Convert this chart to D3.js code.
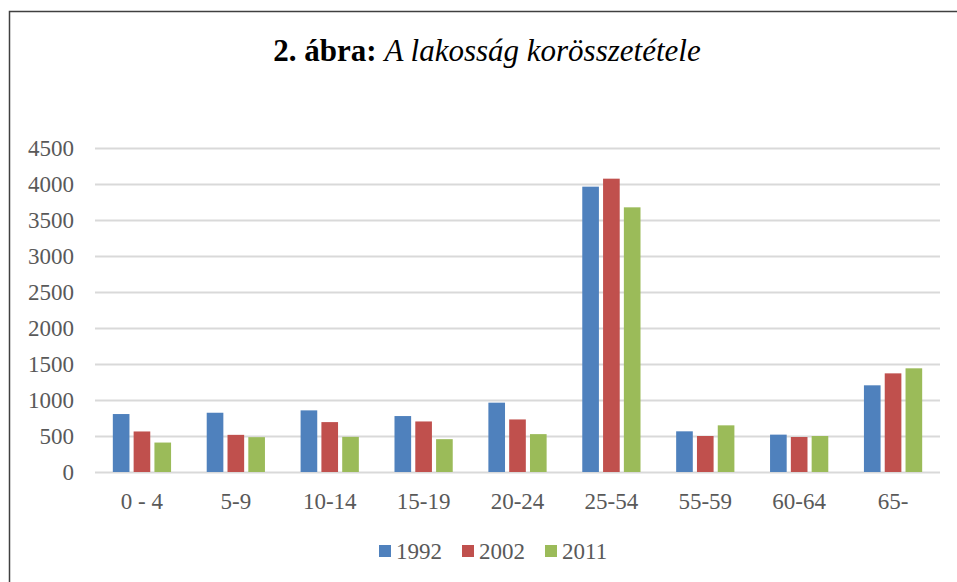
<!DOCTYPE html>
<html>
<head>
<meta charset="utf-8">
<script src="https://cdn.jsdelivr.net/npm/d3@7"></script>
<style>
  html, body { margin: 0; padding: 0; background: #fff; }
  svg { display: block; }
  svg text { font-family: 'Liberation Serif', 'Times New Roman', Times, serif; }
</style>
</head>
<body>
<div id="chart"></div>
<script>
// age groups and yearly values
const categories = ['0 - 4', '5-9', '10-14', '15-19', '20-24', '25-54', '55-59', '60-64', '65-']
const years = ['1992', '2002', '2011']
const values1992 = [805, 823, 856, 777, 963, 3963, 565, 519, 1204]
const values2002 = [563, 516, 693, 702, 730, 4074, 500, 486, 1370]
const values2011 = [409, 484, 488, 456, 526, 3676, 648, 500, 1440]
const yTicks = [0, 500, 1000, 1500, 2000, 2500, 3000, 3500, 4000, 4500]
const colors = ['#4F81BD', '#C0504D', '#9BBB59']

const series = [values1992, values2002, values2011]
const width = 957
const height = 582
const margin = { top: 148, right: 17, bottom: 110, left: 95 }

const svg = d3.select('#chart')
  .append('svg')
  .attr('width', width)
  .attr('height', height)

// outer frame (only left and top edges are visible in the crop)
svg.append('path')
  .attr('d', `M9.5,${height} V11.5 H${width}`)
  .attr('fill', 'none')
  .attr('stroke', '#404040')
  .attr('stroke-width', 1.5)

// title
const title = svg.append('text')
  .attr('x', 487)
  .attr('y', 61)
  .attr('text-anchor', 'middle')
  .attr('font-size', '31px')
  .attr('fill', '#000')
title.append('tspan').attr('font-weight', 'bold').text('2. ábra: ')
title.append('tspan').attr('font-style', 'italic').text('A lakosság korösszetétele')

const y = d3.scaleLinear()
  .domain([0, 4500])
  .range([height - margin.bottom, margin.top])

const x0 = d3.scaleBand()
  .domain(categories)
  .range([margin.left, width - margin.right])
  .padding(0)

const groupW = 62.4
const x1 = d3.scaleBand()
  .domain(years)
  .range([(x0.bandwidth() - groupW) / 2, (x0.bandwidth() + groupW) / 2])
  .paddingInner(0.2)
  .paddingOuter(0.1)

// gridlines
const yAxis = d3.axisLeft(y)
  .tickValues(yTicks)
  .tickSize(-(width - margin.left - margin.right))
  .tickPadding(21)
  .tickFormat(d3.format('d'))

const gy = svg.append('g')
  .attr('transform', `translate(${margin.left},0)`)
  .call(yAxis)
gy.select('.domain').remove()
gy.selectAll('.tick line')
  .attr('stroke', '#D9D9D9')
  .attr('stroke-width', 2)
gy.selectAll('.tick text')
  .attr('font-family', null)
  .attr('font-size', '23px')
  .attr('fill', '#595959')

// bars
const groups = svg.append('g')
  .selectAll('g')
  .data(categories)
  .enter()
  .append('g')
  .attr('transform', d => `translate(${x0(d)},0)`)

groups.selectAll('rect')
  .data((d, i) => years.map((yr, j) => ({ year: yr, value: series[j][i], color: colors[j] })))
  .enter()
  .append('rect')
  .attr('x', d => x1(d.year))
  .attr('y', d => y(d.value))
  .attr('width', x1.bandwidth())
  .attr('height', d => y(0) - y(d.value))
  .attr('fill', d => d.color)

// category labels
const xAxis = d3.axisBottom(x0).tickSize(0).tickPadding(21)
const gx = svg.append('g')
  .attr('transform', `translate(0,${y(0)})`)
  .call(xAxis)
gx.select('.domain').remove()
gx.selectAll('.tick text')
  .attr('font-family', null)
  .attr('font-size', '23px')
  .attr('fill', '#595959')

// legend
const legendX = [379, 462, 545]
const legend = svg.append('g')
  .selectAll('g')
  .data(years)
  .enter()
  .append('g')
  .attr('transform', (d, i) => `translate(${legendX[i]},545)`)
legend.append('rect')
  .attr('width', 12)
  .attr('height', 12)
  .attr('fill', (d, i) => colors[i])
legend.append('text')
  .attr('x', 17)
  .attr('y', 14)
  .attr('font-size', '23px')
  .attr('fill', '#595959')
  .text(d => d)
</script>
</body>
</html>
